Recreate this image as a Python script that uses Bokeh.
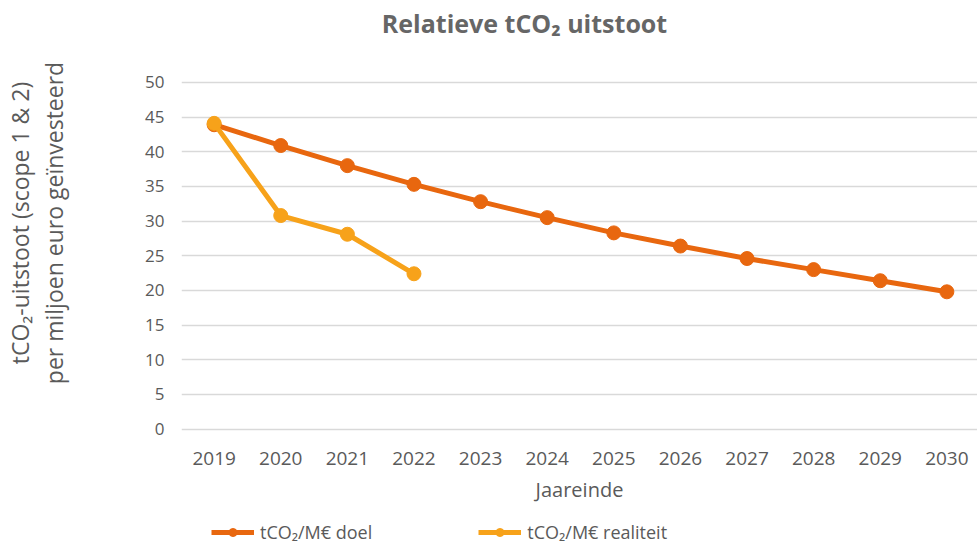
from bokeh.plotting import figure
from bokeh.layouts import column
from bokeh.models import Range1d, FixedTicker, Label, Legend, LegendItem, LinearAxis
from bokeh.embed import file_html
from bokeh.resources import INLINE

years = [2019, 2020, 2021, 2022, 2023, 2024, 2025, 2026, 2027, 2028, 2029, 2030]
doel = [43.9, 40.9, 38.0, 35.3, 32.8, 30.5, 28.3, 26.4, 24.6, 23.0, 21.4, 19.8]
real_years = [2019, 2020, 2021, 2022]
realiteit = [44.1, 30.8, 28.1, 22.4]
y_ticks = [0, 5, 10, 15, 20, 25, 30, 35, 40, 45, 50]

C_DOEL = "#E8670F"
C_REAL = "#F7A21A"
GREY = "#5a5a5a"
FONT = "Open Sans"

p = figure(width=977, height=510, output_backend="svg", toolbar_location=None,
           x_range=Range1d(2018.51, 2030.46), y_range=Range1d(-1.65, 61.1),
           min_border_left=178, min_border_right=0, min_border_top=5, min_border_bottom=70)
p.outline_line_color = None
p.title.visible = False

p.xgrid.grid_line_color = None
p.ygrid.grid_line_color = "#d9d9d9"
p.ygrid.grid_line_width = 1.5
p.ygrid.ticker = FixedTicker(ticks=y_ticks)

p.xaxis.ticker = FixedTicker(ticks=years)
p.yaxis.ticker = FixedTicker(ticks=y_ticks)

outer = LinearAxis(ticker=FixedTicker(ticks=[]))
p.add_layout(outer, "left")

for ax in (p.xaxis[0], p.yaxis[0], outer):
    ax.axis_line_color = None
    ax.major_tick_line_color = None
    ax.minor_tick_line_color = None
    ax.major_label_text_font = FONT
    ax.major_label_text_color = GREY
    ax.axis_label_text_font = FONT
    ax.axis_label_text_font_style = "normal"
    ax.axis_label_text_color = GREY
    ax.axis_label_text_font_size = "23px"
p.yaxis[0].major_label_text_font_size = "17px"
p.xaxis.major_label_text_font_size = "19px"
p.xaxis.axis_label_text_font_size = "20px"
p.yaxis[0].major_label_standoff = 11
p.xaxis.major_label_standoff = 5
p.xaxis.axis_label = "Jaareinde"
p.xaxis.axis_label_standoff = 8

p.yaxis[0].axis_label = "per miljoen euro geïnvesteerd"
p.yaxis[0].axis_label_standoff = 72
outer.axis_label = "tCO₂-uitstoot (scope 1 & 2)"
outer.axis_label_standoff = 0

p.line(years, doel, line_color=C_DOEL, line_width=5)
p.scatter(years, doel, size=14, fill_color=C_DOEL, line_color=C_DOEL)
p.line(real_years, realiteit, line_color=C_REAL, line_width=5)
p.scatter(real_years, realiteit, size=14, fill_color=C_REAL, line_color=C_REAL)

title = Label(x=343, y=418, x_units="screen", y_units="screen",
              text="Relatieve tCO₂ uitstoot", text_font=FONT, text_font_size="25px",
              text_font_style="bold", text_color="#666666",
              text_align="center", text_baseline="middle")
p.add_layout(title)

# legend strip below the chart
q = figure(width=977, height=37, output_backend="svg", toolbar_location=None,
           x_range=Range1d(5000, 5001), y_range=Range1d(5000, 5001),
           x_axis_location=None, y_axis_location=None,
           min_border_left=0, min_border_right=0, min_border_top=0, min_border_bottom=0)
q.outline_line_color = None
q.grid.visible = False
ql1 = q.line(years, doel, line_color=C_DOEL, line_width=5)
qs1 = q.scatter(years, doel, size=14, fill_color=C_DOEL, line_color=C_DOEL)
ql2 = q.line(real_years, realiteit, line_color=C_REAL, line_width=5)
qs2 = q.scatter(real_years, realiteit, size=14, fill_color=C_REAL, line_color=C_REAL)

legend = Legend(items=[LegendItem(label="tCO₂/M€ doel", renderers=[ql1, qs1]),
                       LegendItem(label="tCO₂/M€ realiteit", renderers=[ql2, qs2])],
                orientation="horizontal", location=(30, 3),
                padding=0, margin=0, spacing=106, glyph_width=43, glyph_height=20,
                label_standoff=6, label_text_font=FONT, label_text_font_size="18px",
                label_text_color=GREY, border_line_color=None, background_fill_alpha=0)
q.add_layout(legend)

layout = column(p, q, spacing=0)
open("out.html", "w").write(file_html(layout, INLINE))
